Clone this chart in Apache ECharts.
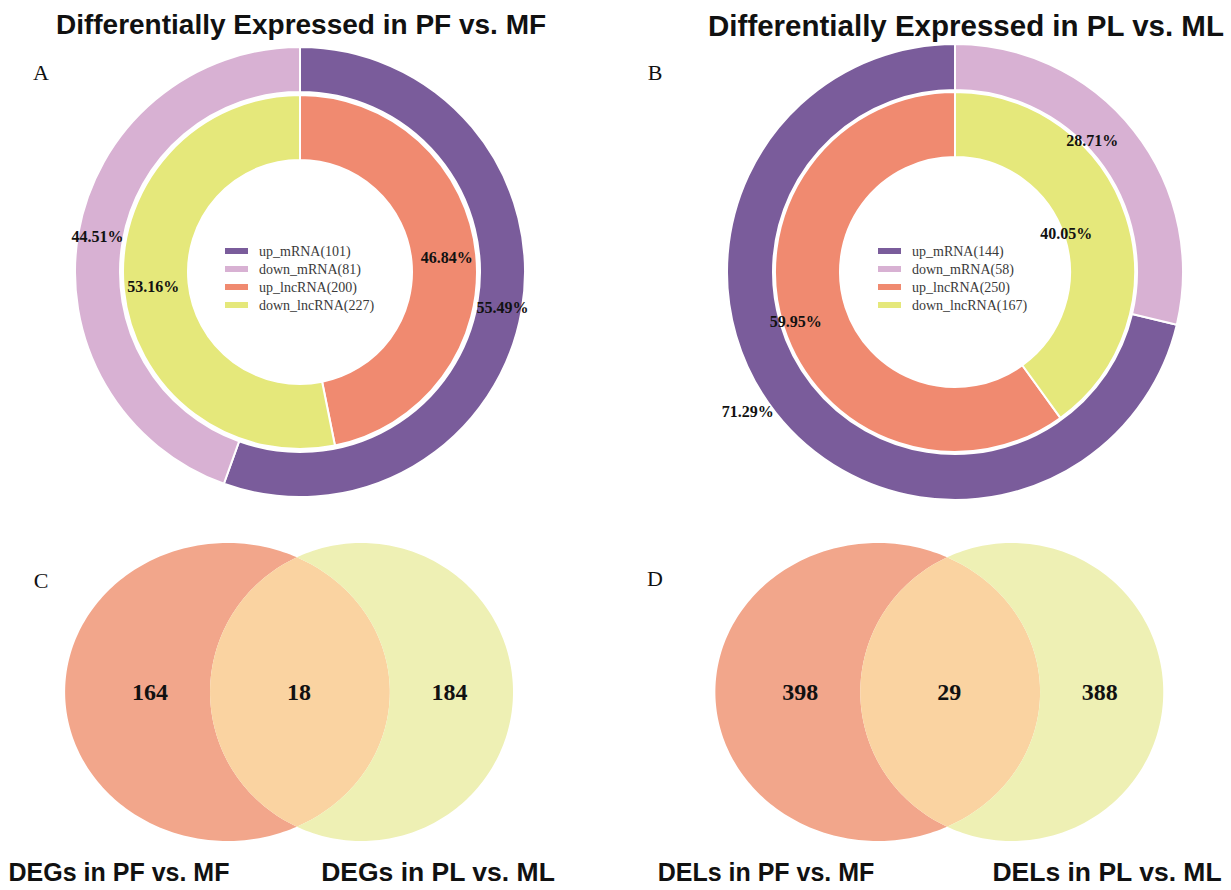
<!DOCTYPE html>
<html>
<head>
<meta charset="utf-8">
<script src="https://cdn.jsdelivr.net/npm/echarts@6/dist/echarts.min.js"></script>
<style>
  html, body { margin: 0; padding: 0; background: #ffffff; }
  #main { width: 1231px; height: 890px; }
</style>
</head>
<body>
<div id="main"></div>
<script>
// ---- data ----
const ringCategories = ['up_mRNA', 'down_mRNA', 'up_lncRNA', 'down_lncRNA'];
const pfmfMRNA = [101, 81];      // up, down
const pfmfLncRNA = [200, 227];   // up, down
const plmlMRNA = [144, 58];      // up, down
const plmlLncRNA = [250, 167];   // up, down
const panelTitles = ['Differentially Expressed in PF vs. MF', 'Differentially Expressed in PL vs. ML'];
const panelLetters = ['A', 'B', 'C', 'D'];
const degSets = ['DEGs in PF vs. MF', 'DEGs in PL vs. ML'];
const delSets = ['DELs in PF vs. MF', 'DELs in PL vs. ML'];
const degCounts = [164, 18, 184]; // only PF vs. MF, shared, only PL vs. ML
const delCounts = [398, 29, 388];

// ---- styling ----
const ringColors = ['#7A5C9B', '#D8B1D3', '#F08A70', '#E5E87B'];
const vennColors = ['#F2A68B', '#FAD3A1', '#EEF0B4'];
const serif = '"Liberation Serif", "Times New Roman", serif';
const sans = '"Liberation Sans", Arial, sans-serif';

function itemName(i, v) { return ringCategories[i] + '(' + v + ')'; }

function ringSeries(center, radius, values, catOffset, clockwise, offsets) {
  return {
    type: 'pie',
    center: center,
    radius: radius,
    startAngle: 90,
    clockwise: clockwise,
    avoidLabelOverlap: false,
    animation: false,
    emphasis: { disabled: true },
    itemStyle: { borderColor: '#ffffff', borderWidth: 2 },
    label: {
      show: true, position: 'inside', formatter: '{d}%',
      fontFamily: serif, fontWeight: 'bold', fontSize: 16, color: '#111111'
    },
    labelLine: { show: false },
    data: values.map(function (v, i) {
      const item = { name: itemName(catOffset + i, v), value: v, itemStyle: { color: ringColors[catOffset + i] } };
      if (offsets && offsets[i]) item.label = { offset: offsets[i] };
      return item;
    })
  };
}

// ---- venn layout (axis units; both shapes have unit half-height) ----
const VENN_SHAPES = [
  { cx: -0.45, a: 1.09 },   // left set
  { cx: 0.45, a: 1.017 }    // right set
];
const VENN_LABEL_X = [-0.97, 0.03, 1.04]; // left only, shared, right only

function arcPoints(s, t0, t1, n) {
  const pts = [];
  for (let k = 0; k <= n; k++) {
    const t = t0 + (t1 - t0) * k / n;
    pts.push([s.cx + s.a * Math.cos(t), Math.sin(t)]);
  }
  return pts;
}
function regionPolygon(r) {
  const L = VENN_SHAPES[0], R = VENN_SHAPES[1];
  // crossing x of the two outlines, then its parameter angle on the left outline
  const xi = (L.cx * R.a + R.cx * L.a) / (L.a + R.a);
  const t = Math.acos((xi - L.cx) / L.a);
  const PI = Math.PI;
  if (r === 0) return arcPoints(L, t, 2 * PI - t, 180).concat(arcPoints(R, PI + t, PI - t, 90));
  if (r === 1) return arcPoints(L, -t, t, 90).concat(arcPoints(R, PI - t, PI + t, 90));
  return arcPoints(R, PI + t, 3 * PI - t, 180).concat(arcPoints(L, t, -t, 90));
}

function vennSeries(axisIndex, counts) {
  return {
    type: 'custom',
    coordinateSystem: 'cartesian2d',
    xAxisIndex: axisIndex,
    yAxisIndex: axisIndex,
    animation: false,
    silent: true,
    data: counts.map(function (c, i) { return [i, c]; }),
    renderItem: function (params, api) {
      const region = api.value(0);
      const count = api.value(1);
      const pts = regionPolygon(region).map(function (p) { return api.coord(p); });
      const c = api.coord([VENN_LABEL_X[region], 0]);
      return {
        type: 'group',
        children: [
          { type: 'polygon', shape: { points: pts }, style: { fill: vennColors[region] } },
          {
            type: 'text', x: c[0], y: c[1], z2: 10,
            style: {
              text: String(count), fill: '#111111',
              font: 'bold 24px ' + serif, align: 'center', verticalAlign: 'middle'
            }
          }
        ]
      };
    }
  };
}

const legendNamesA = pfmfMRNA.map(function (v, i) { return itemName(i, v); })
  .concat(pfmfLncRNA.map(function (v, i) { return itemName(2 + i, v); }));
const legendNamesB = plmlMRNA.map(function (v, i) { return itemName(i, v); })
  .concat(plmlLncRNA.map(function (v, i) { return itemName(2 + i, v); }));

function legendAt(left, names) {
  return {
    left: left, top: 239, orient: 'vertical',
    icon: 'rect', itemWidth: 23, itemHeight: 6, itemGap: 4,
    selectedMode: false,
    itemStyle: { borderWidth: 0 },
    textStyle: { fontFamily: serif, fontSize: 14, color: '#3a3a3a', lineHeight: 14, padding: [0, 0, 0, 6] },
    data: names
  };
}

function label(text, x, y, font, color) {
  return {
    type: 'text', x: x, y: y,
    style: { text: text, font: font, fill: color || '#111111', align: 'center', verticalAlign: 'middle' }
  };
}

const chart = echarts.init(document.getElementById('main'), null, { renderer: 'svg' });
chart.setOption({
  backgroundColor: '#ffffff',
  animation: false,
  legend: [legendAt(220, legendNamesA), legendAt(873, legendNamesB)],
  grid: [
    { left: 11.5, top: 543, width: 566, height: 298 },
    { left: 661.75, top: 543, width: 566, height: 298 }
  ],
  xAxis: [
    { gridIndex: 0, type: 'value', min: -1.9, max: 1.9, show: false },
    { gridIndex: 1, type: 'value', min: -1.9, max: 1.9, show: false }
  ],
  yAxis: [
    { gridIndex: 0, type: 'value', min: -1, max: 1, show: false },
    { gridIndex: 1, type: 'value', min: -1, max: 1, show: false }
  ],
  series: [
    ringSeries([300, 272], [180, 225], pfmfMRNA, 0, true),
    ringSeries([300, 272], [112, 177], pfmfLncRNA, 2, true),
    ringSeries([955, 272], [182, 228], plmlMRNA, 0, false, [[-44, 11], [-26, -3]]),
    ringSeries([955, 272], [115, 180], plmlLncRNA, 2, false, [[-16, 3], [-32, 8]]),
    vennSeries(0, degCounts),
    vennSeries(1, delCounts)
  ],
  graphic: [
    label(panelTitles[0], 301, 24, 'bold 28px ' + sans),
    label(panelTitles[1], 966, 25, 'bold 29.5px ' + sans),
    label(panelLetters[0], 41, 72, '22px ' + serif),
    label(panelLetters[1], 655, 72, '22px ' + serif),
    label(panelLetters[2], 41, 580, '22px ' + serif),
    label(panelLetters[3], 655, 578, '22px ' + serif),
    label(degSets[0], 119, 872, 'bold 25px ' + sans),
    label(degSets[1], 438, 872, 'bold 26.5px ' + sans),
    label(delSets[0], 766, 872, 'bold 25px ' + sans),
    label(delSets[1], 1107, 872, 'bold 26.5px ' + sans)
  ]
});
</script>
</body>
</html>
